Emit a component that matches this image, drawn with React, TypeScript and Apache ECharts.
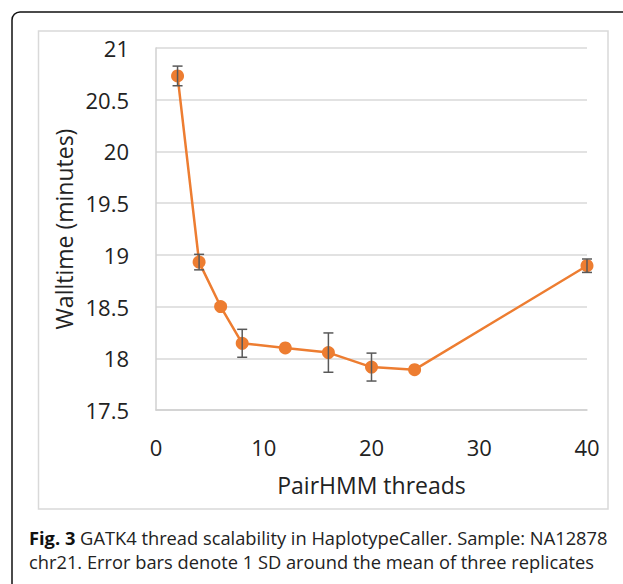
import React, { useEffect, useRef } from "react";
import * as echarts from "echarts";

const threads = [2, 4, 6, 8, 12, 16, 20, 24, 40];
const walltime = [20.73, 18.93, 18.5, 18.145, 18.1, 18.055, 17.915, 17.89, 18.895];
const stdDev = [0.095, 0.075, 0, 0.135, 0, 0.19, 0.135, 0, 0.065];
const yTicks = [17.5, 18, 18.5, 19, 19.5, 20, 20.5, 21];
const xTicks = [0, 10, 20, 30, 40];

const ORANGE = "#ED7D31";
const FONT = "'Open Sans', 'Noto Sans', sans-serif";

export default function App() {
  const ref = useRef<HTMLDivElement>(null);
  useEffect(() => {
    const chart = echarts.init(ref.current!, null, { renderer: "svg" });
    const points = threads.map((t, i) => [t, walltime[i]]);
    const errData = threads
      .map((t, i) => [t, walltime[i] - stdDev[i], walltime[i] + stdDev[i]])
      .filter((d, i) => stdDev[i] > 0);
    chart.setOption({
      animation: false,
      backgroundColor: "#fff",
      grid: { left: 156, top: 48, right: 36, bottom: 174 },
      xAxis: {
        type: "value",
        min: 0,
        max: 40,
        interval: 10,
        name: "PairHMM threads",
        nameLocation: "middle",
        nameGap: 63,
        nameMoveOverlap: false,
        nameTextStyle: { fontFamily: FONT, fontSize: 23, color: "#222" },
        axisLine: { show: true, lineStyle: { color: "#d0d0d0", width: 1.5 } },
        axisTick: { show: false },
        splitLine: { show: false },
        axisLabel: {
          fontFamily: FONT,
          fontSize: 22,
          color: "#222",
          margin: 26,
          formatter: (v: number) => (xTicks.includes(v) ? String(v) : ""),
        },
      },
      yAxis: {
        type: "value",
        min: 17.5,
        max: 21,
        interval: 0.5,
        name: "Walltime (minutes)",
        nameLocation: "middle",
        nameGap: 81,
        nameMoveOverlap: false,
        nameTextStyle: { fontFamily: FONT, fontSize: 23, color: "#222" },
        axisLine: { show: true, lineStyle: { color: "#d0d0d0", width: 1.5 } },
        axisTick: { show: false },
        splitLine: { show: true, lineStyle: { color: "#d9d9d9", width: 1.5 } },
        axisLabel: {
          fontFamily: FONT,
          fontSize: 22,
          color: "#222",
          margin: 27,
          formatter: (v: number) => (yTicks.includes(v) ? String(v) : ""),
        },
      },
      graphic: [
        {
          type: "rect",
          shape: { x: 12, y: 12, width: 700, height: 700, r: 8 },
          style: { fill: "none", stroke: "#111", lineWidth: 1.5 },
          silent: true,
        },
        {
          type: "rect",
          shape: { x: 38.5, y: 31, width: 569.5, height: 478 },
          style: { fill: "none", stroke: "#d9d9d9", lineWidth: 1.5 },
          silent: true,
        },
        {
          type: "text",
          x: 29,
          y: 525,
          style: {
            text: "{b|Fig. 3} GATK4 thread scalability in HaplotypeCaller. Sample: NA12878\nchr21. Error bars denote 1 SD around the mean of three replicates",
            fontFamily: FONT,
            fontSize: 18.3,
            lineHeight: 24,
            fill: "#222",
            rich: {
              b: { fontFamily: FONT, fontSize: 18.3, fontWeight: "bold", fill: "#111", lineHeight: 24 },
            },
          },
        },
      ],
      series: [
        {
          type: "line",
          data: points,
          symbol: "circle",
          symbolSize: 13,
          itemStyle: { color: ORANGE },
          lineStyle: { color: ORANGE, width: 2.5 },
          z: 2,
        },
        {
          type: "custom",
          data: errData,
          z: 3,
          renderItem: (params: any, api: any) => {
            const x = api.value(0);
            const lo = api.coord([x, api.value(1)]);
            const hi = api.coord([x, api.value(2)]);
            const hw = 5;
            const style = { stroke: "#595959", lineWidth: 1.5 };
            return {
              type: "group",
              children: [
                { type: "line", shape: { x1: lo[0], y1: lo[1], x2: hi[0], y2: hi[1] }, style },
                { type: "line", shape: { x1: lo[0] - hw, y1: lo[1], x2: lo[0] + hw, y2: lo[1] }, style },
                { type: "line", shape: { x1: hi[0] - hw, y1: hi[1], x2: hi[0] + hw, y2: hi[1] }, style },
              ],
            };
          },
        },
      ],
    });
    return () => chart.dispose();
  }, []);
  return (
    <div
      ref={ref}
      style={{ position: "absolute", left: 0, top: 0, width: 623, height: 584 }}
    />
  );
}
